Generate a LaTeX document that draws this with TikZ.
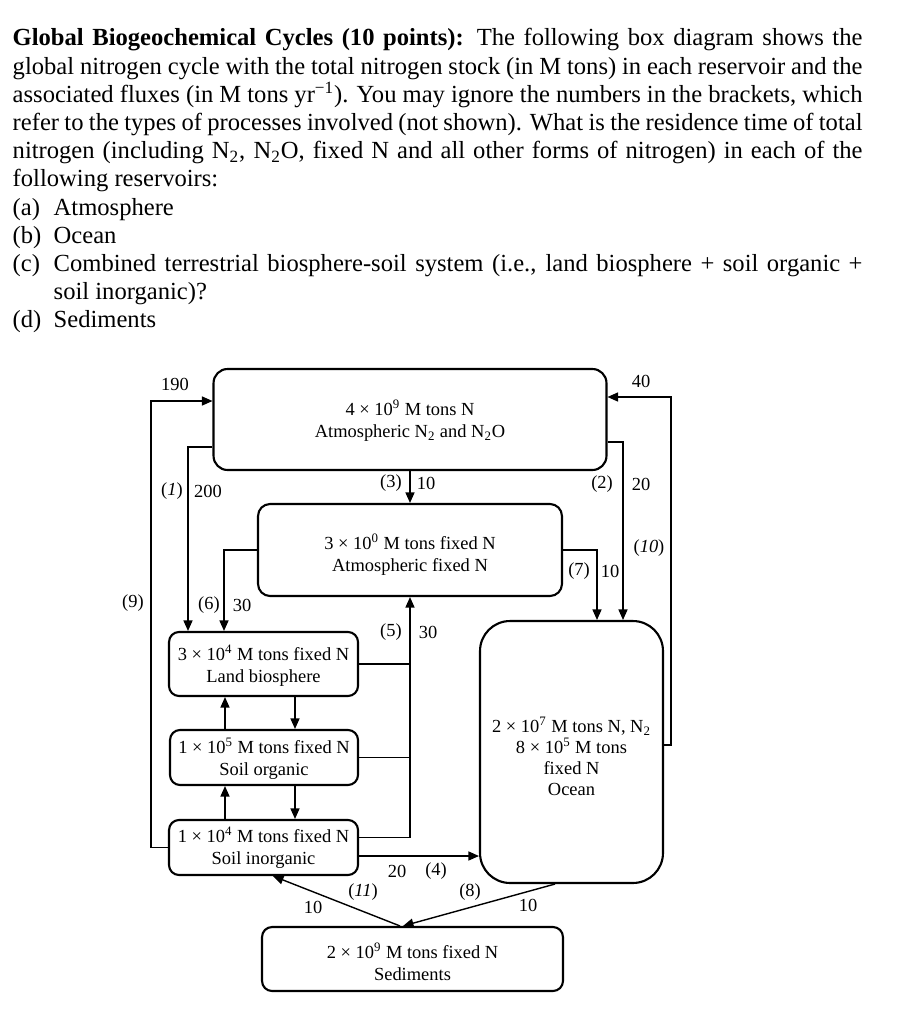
\documentclass[tikz,border=0pt]{standalone}
\usepackage{fontspec}
\setmainfont{Liberation Serif}
\usetikzlibrary{arrows.meta,calc}
\tikzstyle{box}=[draw=black, line width=1.2pt, rounded corners=2.4mm, align=center, inner sep=0pt, font=\fontsize{10.5}{12.5}\selectfont]
\tikzstyle{lab}=[inner sep=0pt, font=\fontsize{10.5}{12.5}\selectfont]

\begin{document}
\begin{tikzpicture}[x=0.02cm, y=-0.02cm, line width=0.8pt, >={Triangle[length=2.1mm,width=1.8mm]}]
\useasboundingbox (0,0) rectangle (903,1024);

\node (question) at (12,46) [anchor=base west, text width=17cm, align=justify, inner sep=0pt, font=\fontsize{14}{16.05}\selectfont] {\textbf{Global Biogeochemical Cycles (10 points):} The following box diagram shows the\linebreak
global nitrogen cycle with the total nitrogen stock (in M tons) in each reservoir and the\linebreak
associated fluxes (in M tons yr\textsuperscript{−1}). You may ignore the numbers in the brackets, which\linebreak
refer to the types of processes involved (not shown). What is the residence time of total\linebreak
nitrogen (including N\textsubscript{2}, N\textsubscript{2}O, fixed N and all other forms of nitrogen) in each of the\linebreak
following reservoirs:\par
\noindent\hangindent=0.82cm\hangafter=1\makebox[0.82cm][l]{(a)}Atmosphere\par
\noindent\hangindent=0.82cm\hangafter=1\makebox[0.82cm][l]{(b)}Ocean\par
\noindent\hangindent=0.82cm\hangafter=1\makebox[0.82cm][l]{(c)}Combined terrestrial biosphere-soil system (i.e., land biosphere + soil organic +\linebreak
soil inorganic)?\par
\noindent\hangindent=0.82cm\hangafter=1\makebox[0.82cm][l]{(d)}Sediments};

\node (atm) at (410,419.5) [box, minimum width=7.86cm, minimum height=2.02cm, rounded corners=2.8mm] {\rule{0pt}{10pt}4 × 10\textsuperscript{9} M tons N\\Atmospheric N\textsubscript{2} and N\textsubscript{2}O};
\node (afix) at (410,550) [box, minimum width=6.08cm, minimum height=1.84cm] {\rule{0pt}{14.5pt}3 × 10\textsuperscript{0} M tons fixed N\\Atmospheric fixed N};
\node (land) at (263.5,664) [box, minimum width=3.78cm, minimum height=1.28cm, rounded corners=2mm] {\rule{0pt}{10.5pt}3 × 10\textsuperscript{4} M tons fixed N\\Land biosphere};
\node (sorg) at (264,757.5) [box, minimum width=3.76cm, minimum height=1.1cm, rounded corners=2mm] {\rule{0pt}{10.5pt}1 × 10\textsuperscript{5} M tons fixed N\\Soil organic};
\node (sinorg) at (263.5,847.5) [box, minimum width=3.78cm, minimum height=1.1cm, rounded corners=2mm] {\rule{0pt}{9pt}1 × 10\textsuperscript{4} M tons fixed N\\Soil inorganic};
\node (ocean) at (571.5,752) [box, minimum width=3.66cm, minimum height=5.24cm, rounded corners=6mm, font=\fontsize{10.5}{12}\selectfont] {\rule{0pt}{13.5pt}2 × 10\textsuperscript{7} M tons N, N\textsubscript{2}\\8 × 10\textsuperscript{5} M tons\\fixed N\\Ocean};
\node (sed) at (412.5,959) [box, minimum width=6.02cm, minimum height=1.28cm, rounded corners=2mm] {\rule{0pt}{12.5pt}2 × 10\textsuperscript{9} M tons fixed N\\Sediments};

% atmosphere <-> land
\draw[->] ($(atm.west)+(0,27.5)$) -| ($(land.north)+(-75.5,0)$);
\draw[->] (sinorg.west) -- ++(-17,0) |- ($(atm.west)+(0,-18.5)$);
\draw[->] (atm.south) -- (afix.north);
\draw[->] (afix.west) -| ($(land.north)+(-39.5,0)$);

% atmosphere <-> ocean
\draw[->] ($(atm.east)+(0,22.5)$) -| ($(ocean.north)+(51.5,0)$);
\draw[->] (afix.east) -| ($(ocean.north)+(25.5,0)$);
\draw[->] ($(ocean.east)+(0,-7)$) -- ++(7,0) |- ($(atm.east)+(0,-22.5)$);

% land and soil up to atmospheric fixed N
\draw (land.east) -- (land.east -| afix.south);
\draw (sorg.east) -- (sorg.east -| afix.south);
\draw[->] ($(sinorg.east)+(0,-10)$) -| (afix.south);

% land <-> soil
\draw[->] ($(sorg.north)+(-39,0)$) coordinate (u1) -- (u1 |- land.south);
\draw[->] ($(land.south)+(31.5,0)$) coordinate (d1) -- (d1 |- sorg.north);
\draw[->] ($(sinorg.north)+(-38.5,0)$) coordinate (u2) -- (u2 |- sorg.south);
\draw[->] ($(sorg.south)+(31,0)$) coordinate (d2) -- (d2 |- sinorg.north);

% soil, ocean and sediments
\draw[->] ($(sinorg.east)+(0,8.5)$) coordinate (p4) -- (p4 -| ocean.west);
\draw[->] ($(sed.north)+(-12.5,0)$) -- ($(sinorg.south)+(9.5,0)$);
\draw[->] ($(ocean.south)+(-16.5,0)$) -- ($(sed.north)+(-9.5,0)$);

% flux labels
\node (l190) at (175,384) [lab] {190};
\node (l1) at (172,491) [lab] {(\textit{1})};
\node (l200) at (208,491) [lab] {200};
\node (l9) at (133,603) [lab] {(9)};
\node (l6) at (209,605) [lab] {(6)};
\node (l30a) at (242,605) [lab] {30};
\node (l3) at (391,483) [lab] {(3)};
\node (l10a) at (426,483) [lab] {10};
\node (l5) at (391,632) [lab] {(5)};
\node (l30b) at (428,632) [lab] {30};
\node (l40) at (641,381) [lab] {40};
\node (l2) at (602,484) [lab] {(2)};
\node (l20a) at (641,484) [lab] {20};
\node (l10) at (649,548) [lab] {(\textit{10})};
\node (l7) at (579,571) [lab] {(7)};
\node (l10b) at (610,571) [lab] {10};
\node (l20b) at (397,871) [lab] {20};
\node (l4) at (436,871) [lab] {(4)};
\node (l11) at (363,892) [lab] {(\textit{11})};
\node (l10c) at (313,907) [lab] {10};
\node (l8) at (470,892) [lab] {(8)};
\node (l10d) at (528,905) [lab] {10};

\end{tikzpicture}
\end{document}
